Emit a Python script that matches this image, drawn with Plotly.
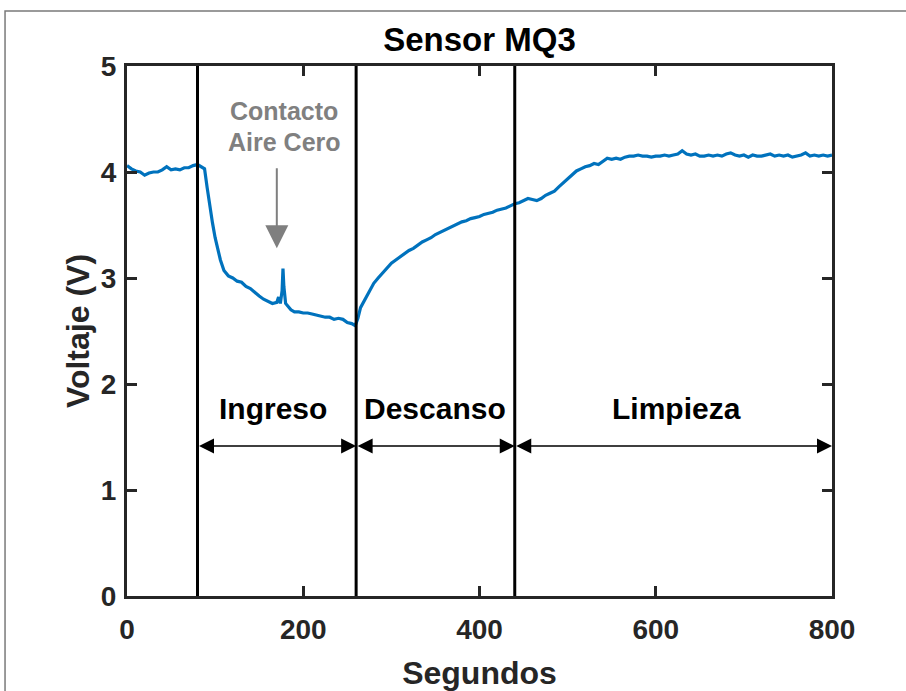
import plotly.graph_objects as go

# --- data ---
t = [0,5,10,15,20,25,30,35,40,45,50,55,60,65,70,75,80,85,88,91,94,97,100,103,106,110,115,120,125,130,135,140,145,150,155,160,165,170,172,174,176,177,178,180,183,186,190,195,200,205,210,215,220,225,230,235,240,245,250,255,259,262,265,270,275,280,285,290,295,300,305,310,315,320,325,330,335,340,345,350,355,360,365,370,375,380,385,390,395,400,405,410,415,420,425,430,435,440,445,450,455,460,465,470,475,480,485,490,495,500,505,510,515,520,525,530,535,540,545,550,555,560,565,570,575,580,585,590,595,600,605,610,615,620,625,630,635,640,645,650,655,660,665,670,675,680,685,690,695,700,705,710,715,720,725,730,735,740,745,750,755,760,765,770,775,780,785,790,795,800]
voltaje = [4.06,4.03,4.01,4.00,3.97,3.99,4.00,4.00,4.02,4.05,4.02,4.03,4.02,4.04,4.04,4.06,4.07,4.05,4.03,3.85,3.67,3.52,3.38,3.26,3.17,3.07,3.02,3.00,2.97,2.96,2.92,2.90,2.86,2.83,2.80,2.78,2.76,2.77,2.82,2.76,2.88,3.09,2.92,2.76,2.73,2.70,2.68,2.68,2.67,2.67,2.66,2.65,2.64,2.63,2.63,2.61,2.62,2.61,2.58,2.57,2.55,2.62,2.72,2.80,2.88,2.95,3.00,3.05,3.10,3.14,3.17,3.20,3.23,3.26,3.28,3.31,3.34,3.36,3.38,3.41,3.43,3.45,3.47,3.49,3.51,3.53,3.54,3.56,3.57,3.58,3.60,3.61,3.62,3.64,3.65,3.66,3.68,3.70,3.71,3.73,3.75,3.74,3.73,3.75,3.78,3.80,3.82,3.86,3.90,3.94,3.98,4.01,4.03,4.05,4.06,4.08,4.07,4.10,4.13,4.12,4.13,4.12,4.14,4.15,4.15,4.16,4.15,4.15,4.14,4.15,4.15,4.16,4.15,4.16,4.17,4.20,4.17,4.16,4.17,4.15,4.15,4.16,4.15,4.16,4.15,4.17,4.18,4.16,4.15,4.16,4.14,4.16,4.15,4.15,4.16,4.17,4.15,4.16,4.15,4.16,4.14,4.15,4.16,4.18,4.15,4.16,4.15,4.16,4.15,4.16]

fases = [80, 260, 440]
fase_fin = 800
fase_nombres = ["Ingreso", "Descanso", "Limpieza"]
fase_texto_x = [166, 350, 623]
fase_texto_y = 1.77
flecha_y = 1.415

x_ticks = [0, 200, 400, 600, 800]
y_ticks = [0, 1, 2, 3, 4, 5]

evento_x = 170
evento_tope = 4.05
evento_punta = 3.28

FONT = "Liberation Sans"
AX = "#262626"

fig = go.Figure()
fig.add_trace(go.Scatter(x=t, y=voltaje, mode="lines",
                         line=dict(color="#0072BD", width=3.2), showlegend=False))

for xv in fases:
    fig.add_shape(type="line", xref="x", yref="paper", x0=xv, x1=xv, y0=0, y1=1,
                  line=dict(color="black", width=3))

bounds = fases + [fase_fin]
for i in range(3):
    a, b = bounds[i], bounds[i + 1]
    fig.add_annotation(x=b, y=flecha_y, ax=a, ay=flecha_y, xref="x", yref="y",
                       axref="x", ayref="y", showarrow=True, arrowhead=2,
                       arrowside="end+start", arrowwidth=1.5, arrowsize=2,
                       arrowcolor="black", text="", standoff=0, startstandoff=0)
    fig.add_annotation(x=fase_texto_x[i], y=fase_texto_y, xref="x", yref="y",
                       text=fase_nombres[i], showarrow=False,
                       font=dict(family=FONT, size=30, color="black", weight="bold"))

# event arrow
fig.add_annotation(x=evento_x, y=evento_punta, ax=evento_x, ay=evento_tope,
                   xref="x", yref="y", axref="x", ayref="y", showarrow=True,
                   arrowhead=2, arrowwidth=2, arrowsize=2.3, arrowcolor="#7f7f7f",
                   text="", standoff=0)
fig.add_annotation(x=178, y=4.575, xref="x", yref="y", text="Contacto", showarrow=False,
                   font=dict(family=FONT, size=25, color="#808080", weight="bold"))
fig.add_annotation(x=179, y=4.283, xref="x", yref="y", text="Aire Cero", showarrow=False,
                   font=dict(family=FONT, size=25, color="#808080", weight="bold"))

# outer figure border
fig.add_shape(type="rect", xref="paper", yref="paper", x0=-0.173, x1=1.3, y0=-0.5, y1=1.104,
              line=dict(color="#7a7a7a", width=1.5), layer="below")

axis_common = dict(showline=True, mirror="allticks", linecolor=AX, linewidth=3,
                   ticks="inside", ticklen=10, tickwidth=3, tickcolor=AX,
                   showgrid=False, zeroline=False, automargin=False,
                   tickfont=dict(family=FONT, size=28, color=AX, weight="bold"))

fig.update_xaxes(range=[0, 800], tickvals=x_ticks, ticklabelstandoff=6,
                 title=dict(text="Segundos", standoff=23,
                            font=dict(family=FONT, size=32, color=AX, weight="bold")),
                 **axis_common)
fig.update_yaxes(range=[0, 5], tickvals=y_ticks, ticklabelstandoff=2,
                 title=dict(text="Voltaje (V)", standoff=2,
                            font=dict(family=FONT, size=32, color=AX, weight="bold")),
                 **axis_common)

fig.update_layout(
    width=906, height=691, autosize=False,
    margin=dict(l=127, r=74, t=66, b=95),
    plot_bgcolor="white", paper_bgcolor="white",
    title=dict(text="Sensor MQ3", x=0.5, xref="paper", y=1 - 39 / 691, yref="container",
               xanchor="center", yanchor="middle",
               font=dict(family=FONT, size=33, color="black", weight="bold")),
)

fig.write_html("out.html")
